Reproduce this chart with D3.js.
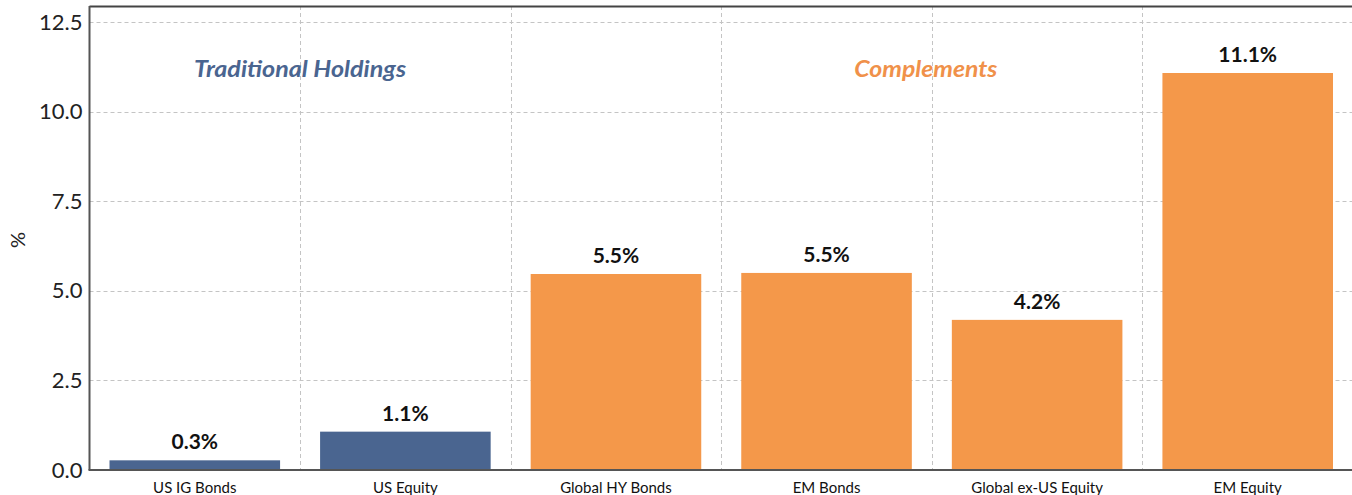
<!DOCTYPE html>
<html>
<head>
<meta charset="utf-8">
<script src="https://cdn.jsdelivr.net/npm/d3@7"></script>
<style>
  html, body { margin: 0; padding: 0; background: #fff; }
  svg { display: block; font-family: Lato, "Open Sans", sans-serif; }
</style>
</head>
<body>
<svg id="chart" width="1352" height="495"></svg>
<script>
const categories = ["US IG Bonds", "US Equity", "Global HY Bonds", "EM Bonds", "Global ex-US Equity", "EM Equity"];
const values = [0.27, 1.07, 5.47, 5.50, 4.19, 11.08];
const groups = ["traditional", "traditional", "complement", "complement", "complement", "complement"];
const yTicks = [0, 2.5, 5, 7.5, 10, 12.5];
const groupLabels = ["Traditional Holdings", "Complements"];
const groupLabelAnchors = [1, 4]; // boundary index between categories where label is centered

const colors = { traditional: "#4a6590", complement: "#f4984a" };
const labelColors = ["#4a6590", "#f0914a"];
const labelWidths = [212, 143];

const svg = d3.select("#chart");
const mLeft = 89.5, mRight = 1353, mTop = 6, mBottom = 470;

const x = d3.scaleBand().domain(categories).range([mLeft, mRight]).paddingInner(0.19).paddingOuter(0.095);
const xGrid = d3.scaleBand().domain(categories).range([mLeft, mRight]).padding(0);
const y = d3.scaleLinear().domain([0, 12.95]).range([mBottom, mTop]);

// horizontal gridlines
svg.append("g").selectAll("line").data(yTicks.filter(d => d > 0)).join("line")
  .attr("x1", mLeft).attr("x2", mRight)
  .attr("y1", d => Math.round(y(d)) + 0.5).attr("y2", d => Math.round(y(d)) + 0.5)
  .attr("stroke", "#c4c4c4").attr("stroke-width", 1).attr("stroke-dasharray", "4,3");

// vertical gridlines at band boundaries
svg.append("g").selectAll("line").data(categories.slice(1)).join("line")
  .attr("x1", d => Math.round(xGrid(d)) + 0.5).attr("x2", d => Math.round(xGrid(d)) + 0.5)
  .attr("y1", mTop).attr("y2", mBottom)
  .attr("stroke", "#c4c4c4").attr("stroke-width", 1).attr("stroke-dasharray", "4,3");

// top border
svg.append("line").attr("x1", mLeft).attr("x2", mRight).attr("y1", mTop + 0.5).attr("y2", mTop + 0.5)
  .attr("stroke", "#444").attr("stroke-width", 2);

// bars
svg.append("g").selectAll("rect").data(categories).join("rect")
  .attr("x", d => x(d)).attr("width", x.bandwidth())
  .attr("y", (d, i) => y(values[i])).attr("height", (d, i) => y(0) - y(values[i]))
  .attr("fill", (d, i) => colors[groups[i]]);

// value labels
svg.append("g").selectAll("text").data(categories).join("text")
  .attr("x", d => x(d) + x.bandwidth() / 2)
  .attr("y", (d, i) => y(values[i]) - 11)
  .attr("text-anchor", "middle")
  .attr("font-size", 21).attr("font-weight", 700).attr("fill", "#111")
  .text((d, i) => values[i].toFixed(1) + "%");

// axes
const yAxis = d3.axisLeft(y).tickValues(yTicks).tickFormat(d3.format(".1f")).tickSize(0).tickPadding(7);
const gy = svg.append("g").attr("transform", `translate(${mLeft},0)`).call(yAxis);
gy.select(".domain").attr("stroke", "#555").attr("stroke-width", 2).attr("d", `M0,${mTop}V${mBottom}`);
gy.selectAll("text").attr("font-size", 22).attr("fill", "#222").attr("font-family", "Lato, sans-serif");

const xAxis = d3.axisBottom(x).tickSize(0).tickPadding(12);
const gx = svg.append("g").attr("transform", `translate(0,${mBottom})`).call(xAxis);
gx.select(".domain").attr("stroke", "#555").attr("stroke-width", 2).attr("d", `M${mLeft - 1},0H${mRight}`);
gx.selectAll("text").attr("font-size", 15).attr("fill", "#111").attr("font-family", "Lato, sans-serif");

// y axis title
svg.append("text").attr("transform", "translate(25,240) rotate(-90)")
  .attr("text-anchor", "middle").attr("font-size", 20).attr("fill", "#222").text("%");

// group annotations
svg.append("g").selectAll("text").data(groupLabels).join("text")
  .attr("x", (d, i) => xGrid(categories[groupLabelAnchors[i]]) + (i === 1 ? -6 : 0))
  .attr("y", 77)
  .attr("text-anchor", "middle")
  .attr("font-size", 22).attr("font-weight", 700).attr("font-style", "italic")
  .attr("textLength", (d, i) => labelWidths[i]).attr("lengthAdjust", "spacingAndGlyphs")
  .attr("fill", (d, i) => labelColors[i])
  .text(d => d);
</script>
</body>
</html>
